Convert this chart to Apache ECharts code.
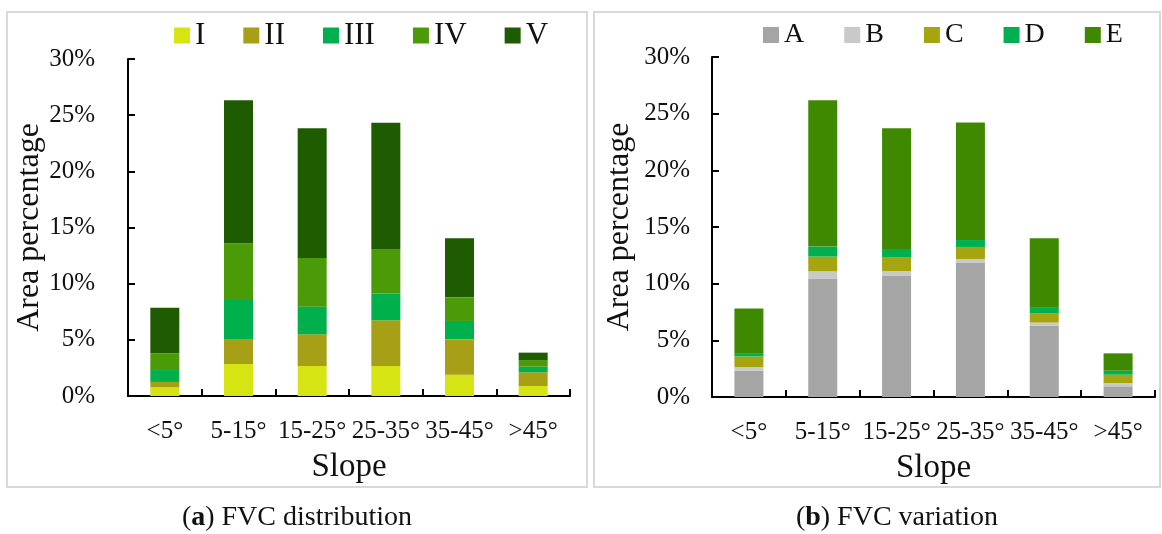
<!DOCTYPE html>
<html>
<head>
<meta charset="utf-8">
<script src="https://cdn.jsdelivr.net/npm/echarts@6/dist/echarts.min.js"></script>
<style>html,body{margin:0;padding:0;background:#fff}#c{width:1162px;height:534px}</style>
</head>
<body>
<div id="c"></div>
<script>
const categories = ['<5°', '5-15°', '15-25°', '25-35°', '35-45°', '>45°'];
const yTicks = { min: 0, max: 30, interval: 5 };

// (a) FVC distribution, area percentage (%)
const levelNames = ['I', 'II', 'III', 'IV', 'V'];
const fvcI   = [0.77, 2.85, 2.67, 2.67, 1.90, 0.89];
const fvcII  = [0.48, 2.19, 2.82, 4.07, 3.14, 1.22];
const fvcIII = [1.06, 3.51, 2.46, 2.40, 1.64, 0.50];
const fvcIV  = [1.49, 5.04, 4.33, 3.95, 2.10, 0.59];
const fvcV   = [4.06, 12.73, 11.55, 11.24, 5.26, 0.66];
const levelColors = ['#d6e413', '#a7a016', '#00b04c', '#4b9a08', '#1f5b00'];

// (b) FVC variation, area percentage (%)
const changeNames = ['A', 'B', 'C', 'D', 'E'];
const varA = [2.32, 10.45, 10.68, 11.83, 6.28, 0.94];
const varB = [0.32, 0.64, 0.44, 0.35, 0.29, 0.29];
const varC = [0.94, 1.30, 1.18, 1.06, 0.83, 0.74];
const varD = [0.29, 0.88, 0.76, 0.61, 0.53, 0.35];
const varE = [3.93, 12.91, 10.66, 10.36, 6.08, 1.53];
const changeColors = ['#a5a5a5', '#c9c9c9', '#a6a40f', '#00b04f', '#3f8900'];

const FONT = '"Liberation Serif", "Times New Roman", serif';
const levelData = [fvcI, fvcII, fvcIII, fvcIV, fvcV];
const changeData = [varA, varB, varC, varD, varE];

function xAxis(gridIndex) {
  return {
    type: 'category', gridIndex, data: categories,
    name: 'Slope', nameLocation: 'middle', nameGap: 55,
    nameTextStyle: { fontFamily: FONT, fontSize: 33, color: '#111' },
    axisLine: { lineStyle: { color: '#000', width: 2 } },
    axisTick: { show: true, inside: true, length: 7, lineStyle: { color: '#000', width: 2 } },
    axisLabel: { fontFamily: FONT, fontSize: 25, color: '#111', margin: 23, interval: 0 }
  };
}
function yAxis(gridIndex, labelMargin, nameGap) {
  return {
    type: 'value', gridIndex, min: yTicks.min, max: yTicks.max, interval: yTicks.interval,
    name: 'Area percentage', nameLocation: 'middle', nameGap, nameRotate: 90,
    nameTextStyle: { fontFamily: FONT, fontSize: 32, color: '#111' },
    axisLine: { show: true, lineStyle: { color: '#000', width: 2 } },
    axisTick: { show: true, inside: true, length: 7, lineStyle: { color: '#000', width: 2 } },
    splitLine: { show: false },
    axisLabel: { fontFamily: FONT, fontSize: 25, color: '#111', margin: labelMargin, formatter: '{value}%' }
  };
}

const series = [];
levelNames.forEach((n, i) => series.push({
  name: n, type: 'bar', stack: 'a', xAxisIndex: 0, yAxisIndex: 0, barWidth: 29,
  itemStyle: { color: levelColors[i] }, data: levelData[i]
}));
changeNames.forEach((n, i) => series.push({
  name: n, type: 'bar', stack: 'b', xAxisIndex: 1, yAxisIndex: 1, barWidth: 29,
  itemStyle: { color: changeColors[i] }, data: changeData[i]
}));

const capStyle = { fontFamily: FONT, fontSize: 28, fontWeight: 'normal', color: '#111',
  rich: { b: { fontFamily: FONT, fontSize: 28, fontWeight: 'bold', color: '#111' } } };

const chart = echarts.init(document.getElementById('c'), null, { renderer: 'canvas' });
chart.setOption({
  animation: false,
  backgroundColor: '#fff',
  graphic: [
    { type: 'rect', shape: { x: 7, y: 12, width: 580, height: 475 }, style: { fill: 'none', stroke: '#d9d9d9', lineWidth: 2 }, z: -10 },
    { type: 'rect', shape: { x: 594, y: 12, width: 566, height: 475 }, style: { fill: 'none', stroke: '#d9d9d9', lineWidth: 2 }, z: -10 }
  ],
  title: [
    { text: '({b|a}) FVC distribution', left: 292, top: 499, textAlign: 'center', textStyle: capStyle },
    { text: '({b|b}) FVC variation', left: 892, top: 499, textAlign: 'center', textStyle: capStyle }
  ],
  legend: [
    { data: levelNames, left: 169, top: 15, icon: 'rect', itemWidth: 16, itemHeight: 16, itemGap: 38,
      textStyle: { fontFamily: FONT, fontSize: 31, color: '#111' } },
    { data: changeNames, left: 758, top: 16, icon: 'rect', itemWidth: 16, itemHeight: 16, itemGap: 40,
      textStyle: { fontFamily: FONT, fontSize: 28, color: '#111' } }
  ],
  grid: [
    { left: 128, top: 59, width: 442, height: 337 },
    { left: 712, top: 57, width: 443, height: 340 }
  ],
  xAxis: [xAxis(0), xAxis(1)],
  yAxis: [yAxis(0, 33, 78), yAxis(1, 22, 76)],
  series
});
</script>
</body>
</html>
